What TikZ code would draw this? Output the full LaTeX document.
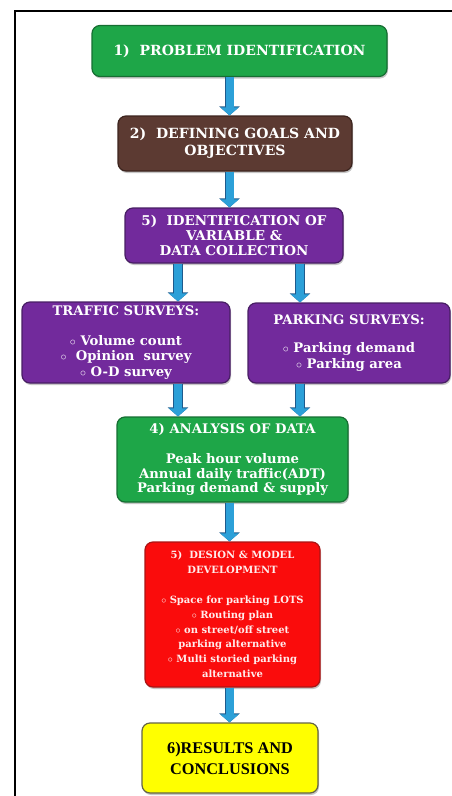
\documentclass[tikz,border=0pt]{standalone}
\usepackage{fontspec}
\setmainfont{DejaVu Serif}
\newfontfamily\resfont{Liberation Serif}
\usepackage{tikz}
\usetikzlibrary{arrows.meta,shadows}
\definecolor{boxgreen}{RGB}{30,166,72}
\definecolor{boxgreenedge}{RGB}{22,110,50}
\definecolor{boxbrown}{RGB}{92,58,50}
\definecolor{boxbrownedge}{RGB}{60,36,30}
\definecolor{boxpurple}{RGB}{114,42,156}
\definecolor{boxpurpleedge}{RGB}{72,30,100}
\definecolor{boxred}{RGB}{250,12,12}
\definecolor{boxrededge}{RGB}{170,20,20}
\definecolor{boxyellow}{RGB}{255,255,0}
\definecolor{boxyellowedge}{RGB}{100,100,70}
\definecolor{arrowblue}{RGB}{44,160,216}
\definecolor{arrowedge}{RGB}{30,90,140}
\begin{document}
\begin{tikzpicture}[x=1pt,y=-1pt,
  box/.style={draw, line width=1.2pt, rounded corners=8pt, align=center, inner sep=0pt, text=white,
    drop shadow={shadow xshift=1pt, shadow yshift=-2pt, opacity=0.45}},
  flow/.style={draw=arrowblue, line width=8pt, -{Triangle[length=8pt,width=18pt]},
    preaction={draw=arrowedge, line width=9.5pt, -{Triangle[length=9pt,width=20pt]}}}]
\useasboundingbox (0,0) rectangle (451,796);
\draw[line width=1.6pt] (15,800) -- (15,11) -- (455,11);
\node[box, fill=boxgreen, draw=boxgreenedge, minimum width=295pt, minimum height=51pt,
  font=\fontsize{14}{16}\selectfont\bfseries] (probid) at (239.5,51) {1)\ \ PROBLEM IDENTIFICATION};
\node[box, fill=boxbrown, draw=boxbrownedge, minimum width=234pt, minimum height=55pt,
  font=\fontsize{14}{17}\selectfont\bfseries] (goals) at (235,143.5) {2)\ \ DEFINING GOALS AND\\OBJECTIVES};
\node[box, fill=boxpurple, draw=boxpurpleedge, minimum width=218pt, minimum height=55pt,
  font=\fontsize{13.5}{15}\selectfont\bfseries] (idvar) at (234,235.5) {5)\ \ IDENTIFICATION OF\\VARIABLE \&\\DATA COLLECTION};
\node[box, fill=boxpurple, draw=boxpurpleedge, minimum width=208pt, minimum height=81pt,
  font=\fontsize{13.2}{15.6}\selectfont\bfseries] (trafsurv) at (126,342.5)
  {TRAFFIC SURVEYS:\\[14pt]$\circ$ Volume count\\$\circ$\ \ Opinion\ \ survey\\$\circ$ O-D survey};
\node[box, fill=boxpurple, draw=boxpurpleedge, minimum width=202pt, minimum height=80pt,
  font=\fontsize{13.2}{16}\selectfont\bfseries] (parksurv) at (349,343)
  {PARKING SURVEYS:\\[12pt]$\circ$ Parking demand\\$\circ$ Parking area};
\node[box, fill=boxgreen, draw=boxgreenedge, minimum width=231pt, minimum height=85pt,
  font=\fontsize{13.2}{14.6}\selectfont\bfseries] (analysis) at (232.5,459.5)
  {4) ANALYSIS OF DATA\\[16pt]Peak hour volume\\Annual daily traffic(ADT)\\Parking demand \& supply};
\node[box, fill=boxred, draw=boxrededge, minimum width=175pt, minimum height=145pt, text={red!8!white},
  font=\fontsize{10}{14.8}\selectfont\bfseries] (design) at (232.5,614.5)
  {5)\ \ DESION \& MODEL\\DEVELOPMENT\\[15pt]$\circ$ Space for parking LOTS\\$\circ$ Routing plan\\$\circ$ on street/off street\\parking alternative\\$\circ$ Multi storied parking\\alternative};
\node[box, fill=boxyellow, draw=boxyellowedge, minimum width=176pt, minimum height=70pt, text=black,
  font=\fontsize{16.3}{21}\selectfont\resfont\bfseries] (results) at (230,758) {6)RESULTS AND\\CONCLUSIONS};
\coordinate (mcol) at (229.5,0);
\coordinate (lcol) at (178,0);
\coordinate (rcol) at (300,0);
\draw[flow] (probid.south -| mcol) -- (goals.north -| mcol);
\draw[flow] (goals.south -| mcol) -- (idvar.north -| mcol);
\draw[flow] (idvar.south -| lcol) -- (trafsurv.north -| lcol);
\draw[flow] (idvar.south -| rcol) -- (parksurv.north -| rcol);
\draw[flow] (trafsurv.south -| lcol) -- (analysis.north -| lcol);
\draw[flow] (parksurv.south -| rcol) -- (analysis.north -| rcol);
\draw[flow] (analysis.south -| mcol) -- (design.north -| mcol);
\draw[flow] (design.south -| mcol) -- (results.north -| mcol);
\end{tikzpicture}
\end{document}
